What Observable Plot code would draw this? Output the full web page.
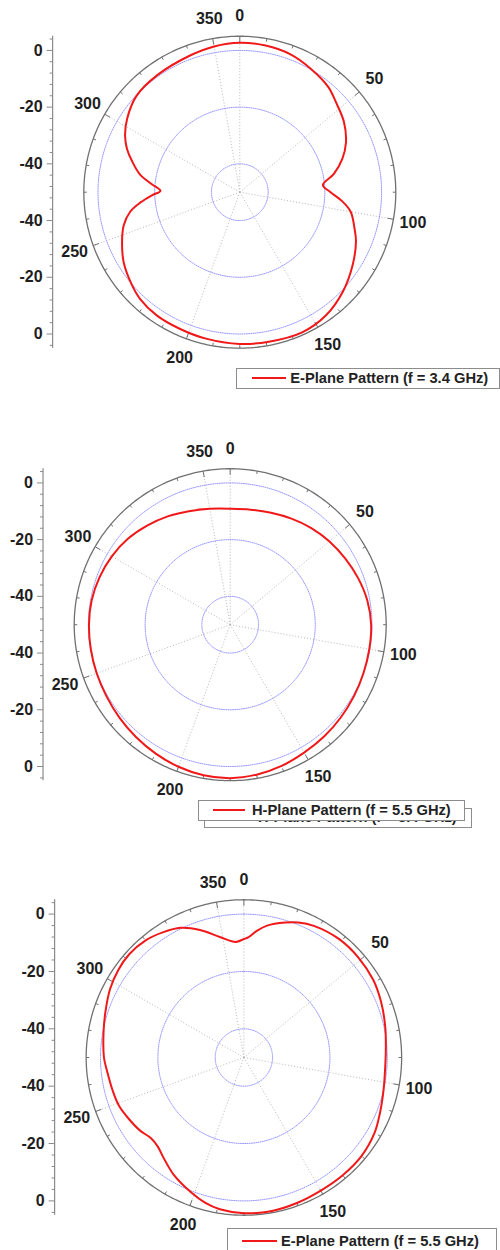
<!DOCTYPE html>
<html><head><meta charset="utf-8">
<script src="https://cdn.jsdelivr.net/npm/d3@7"></script>
<script src="https://cdn.jsdelivr.net/npm/@observablehq/plot@0.6"></script>
<style>
body{margin:0;background:#fff;}
#wrap{position:relative;width:500px;height:1250px;overflow:hidden;font-family:"Liberation Sans",Arial,sans-serif;}
.chart{position:absolute;left:0;}
.legend{position:absolute;background:#fff;border:1px solid #8c8c8c;box-sizing:border-box;font-weight:bold;font-size:14.7px;color:#222;white-space:nowrap;overflow:hidden;}
.legend .sw{position:absolute;height:2px;background:#f01818;}
.legend .tx{position:absolute;line-height:16px;}
</style></head><body><div id="wrap"></div>
<script>
// ---- data ----
const angleTicks = [0, 50, 100, 150, 200, 250, 300, 350];
const minorAngleStep = 10;
const radialTickLabels = [0, -20, -40];
const ringValues = [-40, -20, 0];
const rMin = -50, rMax = 5;

// E-Plane 3.4 GHz
const e34Angles = [0,10,20,30,40,47,56,65,72,79,85,90,95,100,108,113,123,134,145,156,169,180,193,204,214,223,230,239,247,254,260,264,268,271,275,280,286,291,296,303,313,325,340,350];
const e34Gain   = [2.7,2.5,1.8,0.2,-1.5,-3.6,-5.7,-8.7,-12,-16.2,-20.6,-18,-13.8,-10.3,-7.4,-5.5,-2.6,0.5,3.0,4.1,3.7,3.5,3.0,2.6,2.4,1.5,0,-2.2,-4.9,-7.4,-10.8,-14.7,-19,-22,-19,-14.3,-10.5,-7.4,-5,-2.6,-0.2,0.5,1.3,2.2];

// H-Plane 5.5 GHz
const h55Angles = [0,10,20,30,40,50,60,70,80,90,100,110,120,130,140,150,160,170,180,190,200,210,220,230,240,250,260,270,280,290,300,310,320,330,340,350];
const h55Gain   = [-9.1,-8.8,-8.0,-6.8,-5.5,-4.3,-3.2,-2.0,-0.9,-0.3,-0.2,0.0,0.4,0.9,1.5,2.1,3.0,3.7,4.1,3.9,3.3,2.5,1.7,1.0,0.4,0.1,-0.1,-0.2,-0.4,-1.0,-1.8,-2.9,-4.4,-5.9,-7.4,-8.5];

// E-Plane 5.5 GHz
const e55Angles = [0,2,6,10,17,22,28,39,49,59,68,78,88,95,100,105,112,120,130,140,150,160,170,180,189,195,201,211,219,224,229,235,242,249,256,264,270,280,288,297,305,312,320,327,334,341,349,356];
const e55Gain   = [-8.7,-8.1,-5.5,-3.3,-0.8,0.8,2.0,3.0,3.0,2.6,1.6,0.4,-0.5,-0.6,-0.3,0.2,1.2,2.6,3.5,3.6,3.6,4.0,4.4,4.3,3.6,2.4,0.6,-2.4,-5.3,-6.8,-7.1,-5.7,-4.5,-3.3,-2.8,-2.1,-1.2,-0.3,0.8,2.4,3.4,3.8,3.3,2.0,0.3,-3.0,-7.3,-9.6];

const legendLabels = ["E-Plane Pattern (f = 3.4 GHz)", "H-Plane Pattern (f = 5.5 GHz)", "E-Plane Pattern (f = 5.5 GHz)"];
const hiddenLegendLabel = "H-Plane Pattern (f = 3.4 GHz)";

// ---- layout ----
const charts = [
  {angles: e34Angles, gain: e34Gain, top: 0, height: 420, cx: 239.3, cy: 191.7, k: 2.836},
  {angles: h55Angles, gain: h55Gain, top: 420, height: 420, cx: 229.7, cy: 204.2, k: 2.836},
  {angles: e55Angles, gain: e55Gain, top: 840, height: 410, cx: 243.4, cy: 217.0, k: 2.868}
];
const legends = [
  {label: legendLabels[0], left: 235.5, top: 367.5, w: 264.5, h: 21, sw: 15.2, swW: 34.3, tx: 53.8},
  {label: hiddenLegendLabel, left: 203.5, top: 807.5, w: 268.5, h: 20.5, sw: 14.8, swW: 31.7, tx: 53.5},
  {label: legendLabels[1], left: 197.5, top: 800, w: 267, h: 20.5, sw: 14.8, swW: 31.7, tx: 53.5},
  {label: legendLabels[2], left: 226.5, top: 1227.5, w: 270, h: 25, sw: 14.2, swW: 35.3, tx: 53.5, cy: 12.5}
];

const deg = Math.PI / 180;
const R = rMax - rMin;
const px = (theta, r) => r * Math.sin(theta * deg);
const py = (theta, r) => r * Math.cos(theta * deg);
const wrap = document.getElementById("wrap");
const FONT = "'Liberation Sans', Arial, sans-serif";

function makeChart(c) {
  const k = c.k;
  const pts = c.angles.map((a, i) => ({x: px(a, c.gain[i] - rMin), y: py(a, c.gain[i] - rMin)}));
  const ringData = [];
  for (const v of ringValues) for (let a = 0; a <= 360; a += 2) ringData.push({ring: v, x: px(a, v - rMin), y: py(a, v - rMin)});
  const outer = [];
  for (let a = 0; a <= 360; a += 1) outer.push({x: px(a, R), y: py(a, R)});
  const tickAngles = d3.range(0, 360, minorAngleStep);
  const tickLen = a => (angleTicks.includes(a) ? 6 : 3) / k;
  const axisX = -66;
  const axisTicks = d3.range(-54, 55, 4);
  const axisLabels = radialTickLabels.flatMap(v => [{v, y: v - rMin}, {v, y: -(v - rMin)}]);
  const lr = 62;
  return Plot.plot({
    width: 500, height: c.height, margin: 0,
    style: {fontFamily: FONT, background: "transparent"},
    x: {type: "linear", domain: [-R, R], range: [c.cx - R * k, c.cx + R * k], axis: null},
    y: {type: "linear", domain: [-R, R], range: [c.cy + R * k, c.cy - R * k], axis: null},
    marks: [
      Plot.link(angleTicks, {x1: 0, y1: 0, x2: a => px(a, R), y2: a => py(a, R), stroke: "#b0b0b0", strokeWidth: 0.9, strokeDasharray: "1,2"}),
      Plot.line(ringData, {x: "x", y: "y", z: "ring", stroke: "#8a8aff", strokeWidth: 0.9, strokeDasharray: "1,1.2"}),
      Plot.line(outer, {x: "x", y: "y", stroke: "#707070", strokeWidth: 1.3}),
      Plot.link(tickAngles, {x1: a => px(a, R), y1: a => py(a, R), x2: a => px(a, R - tickLen(a)), y2: a => py(a, R - tickLen(a)), stroke: "#707070", strokeWidth: 1}),
      Plot.line(pts, {x: "x", y: "y", curve: "catmull-rom-closed", stroke: "#f01818", strokeWidth: 2}),
      Plot.text(angleTicks, {x: a => px(a, lr), y: a => py(a, lr), text: a => String(a), fontSize: 16, fontWeight: "bold", fill: "#1e1e1e", fontFamily: FONT}),
      Plot.ruleX([axisX], {y1: -R, y2: R, stroke: "#8a8a8a", strokeWidth: 1.2}),
      Plot.link(axisTicks, {x1: d => axisX - ((Math.abs(d) % 20 === 10) ? 6 : 3) / k, x2: axisX, y1: d => d, y2: d => d, stroke: "#8a8a8a", strokeWidth: 1}),
      Plot.text(axisLabels, {x: axisX - 10 / k, y: "y", text: d => String(d.v), textAnchor: "end", fontSize: 16, fontWeight: "bold", fill: "#1e1e1e", fontFamily: FONT})
    ]
  });
}

for (const c of charts) {
  const svg = makeChart(c);
  svg.classList.add("chart");
  svg.style.top = c.top + "px";
  wrap.appendChild(svg);
}
for (const L of legends) {
  const d = document.createElement("div");
  d.className = "legend";
  Object.assign(d.style, {left: L.left + "px", top: L.top + "px", width: L.w + "px", height: L.h + "px"});
  const cyy = L.cy != null ? L.cy : (L.h - 2) / 2;
  const sw = document.createElement("div");
  sw.className = "sw";
  Object.assign(sw.style, {left: L.sw + "px", width: L.swW + "px", top: (cyy - 1) + "px"});
  const tx = document.createElement("div");
  tx.className = "tx";
  tx.textContent = L.label;
  Object.assign(tx.style, {left: L.tx + "px", top: (cyy - 8.5) + "px"});
  d.appendChild(sw); d.appendChild(tx);
  wrap.appendChild(d);
}
</script></body></html>
